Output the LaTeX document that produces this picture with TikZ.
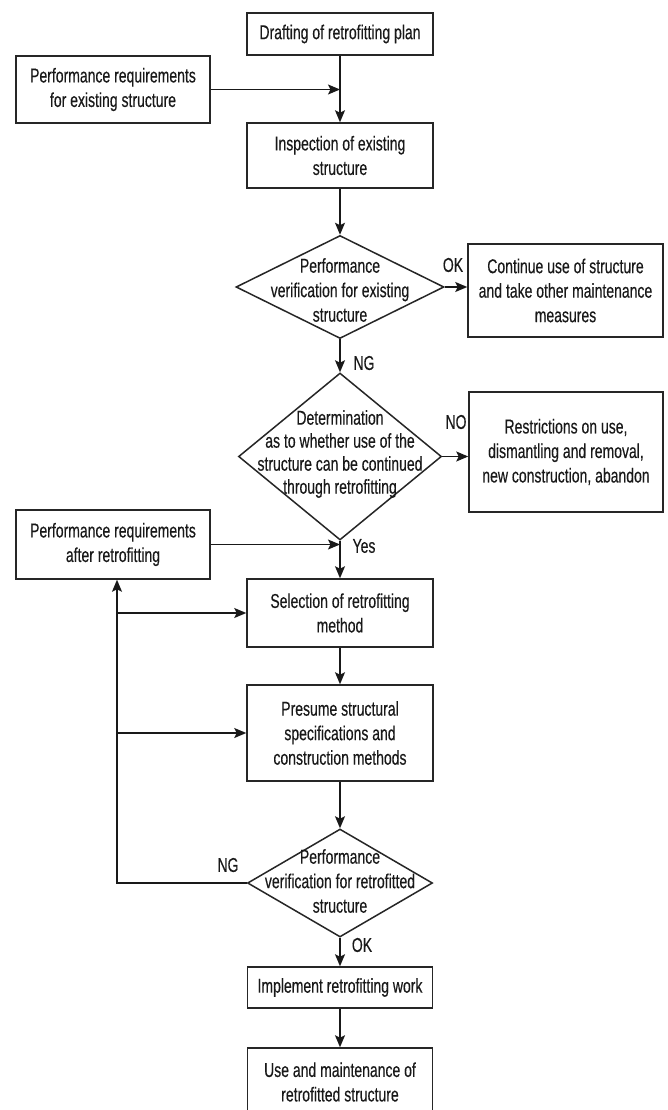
\documentclass[tikz,border=0pt]{standalone}
\usepackage{fontspec}
\setmainfont{Liberation Sans}[FakeStretch=0.70,FakeBold=0.3]
\usetikzlibrary{arrows.meta,shapes.geometric}
\begin{document}
\begin{tikzpicture}[x=1pt,y=-1pt,
  lbl/.style={font=\fontsize{20}{24.5}\selectfont, text=black!90, inner sep=0pt, align=center},
  box/.style={lbl, draw=black!85, line width=1.5pt, rectangle},
  dia/.style={draw=black!85, line width=1.5pt, shape=diamond, inner sep=0pt},
  arr/.style={draw=black!90, line width=1.4pt, -{Stealth[length=12pt,width=10pt,inset=2.5pt]}}
]
\useasboundingbox (0,0) rectangle (668,1110);
\clip (0,0) rectangle (668,1110);
\fill[white] (0,0) rectangle (668,1110);

% boxes
\node[box, minimum width=186, minimum height=42] (draft) at (340,34) {Drafting of retrofitting plan};
\node[box, minimum width=194, minimum height=67] (preq1) at (113,89.5) {Performance requirements\\for existing structure};
\node[box, minimum width=186, minimum height=65] (insp) at (340,155.5) {Inspection of existing\\structure};
\node[dia, minimum width=208, minimum height=103] (d1) at (340,287) {};
\node[lbl] (d1t) at (340,290) {Performance\\verification for existing\\structure};
\node[box, minimum width=195, minimum height=93] (cont) at (565.5,290.5) {Continue use of structure\\and take other maintenance\\measures};
\node[dia, minimum width=203, minimum height=167] (d2) at (340,456.5) {};
\node[lbl, font=\fontsize{20}{23}\selectfont] (d2t) at (340,454) {Determination\\as to whether use of the\\structure can be continued\\through retrofitting};
\node[box, minimum width=194, minimum height=120] (restr) at (566,452) {Restrictions on use,\\dismantling and removal,\\new construction, abandon};
\node[box, minimum width=194, minimum height=69] (preq2) at (113,544.5) {Performance requirements\\after retrofitting};
\node[box, minimum width=186, minimum height=68] (sel) at (340,613) {Selection of retrofitting\\method};
\node[box, minimum width=186, minimum height=96] (pres) at (340,733) {Presume structural\\specifications and\\construction methods};
\node[dia, minimum width=185, minimum height=108] (d3) at (340,883) {};
\node[lbl] (d3t) at (340,881) {Performance\\verification for retrofitted\\structure};
\node[box, minimum width=185, minimum height=41] (impl) at (340,987.5) {Implement retrofitting work};
\node[box, minimum width=185, minimum height=68] (use) at (340,1082) {Use and maintenance of\\retrofitted structure};

% edge labels
\node[lbl] (ok1) at (453,265) {OK};
\node[lbl] (ng1) at (364,363) {NG};
\node[lbl] (no1) at (456,422) {NO};
\node[lbl] (yes1) at (364,546) {Yes};
\node[lbl] (ng2) at (228,865) {NG};
\node[lbl] (ok2) at (362,945) {OK};

% connectors
\draw[arr] (draft) -- (insp);
\draw[arr] (preq1.east) -- (preq1.east -| draft.south);
\draw[arr] (insp) -- (d1);
\draw[arr] (d1.east) -- (d1.east -| cont.west);
\draw[arr] (d1) -- (d2);
\draw[arr] (d2.east) -- (d2.east -| restr.west);
\draw[arr] (d2) -- (sel);
\draw[arr] (preq2.east) -- (preq2.east -| sel.north);
\draw[arr] (sel) -- (pres);
\draw[arr] (pres) -- (d3);
\draw[arr] (d3) -- (impl);
\draw[arr] (impl) -- (use);
\coordinate (fb) at (117,883);
\draw[arr] (d3.west) -- (fb) -- (fb |- preq2.south);
\draw[arr] (fb |- sel.west) -- (sel.west);
\draw[arr] (fb |- pres.west) -- (pres.west);
\end{tikzpicture}
\end{document}
